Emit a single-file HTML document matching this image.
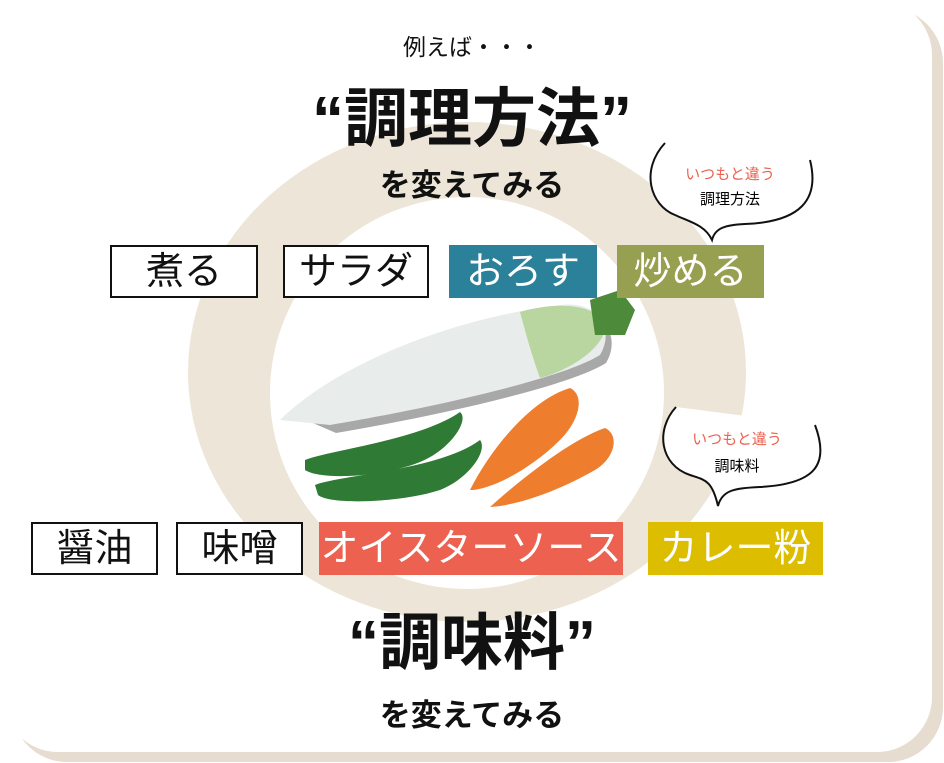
<!DOCTYPE html>
<html><head><meta charset="utf-8"><style>
body{margin:0;width:944px;height:763px;background:#fff;position:relative;overflow:hidden;font-family:"Liberation Sans","Noto Sans CJK JP",sans-serif}
.abs{position:absolute}
.box{position:absolute;box-sizing:border-box;display:flex;align-items:center;justify-content:center;font-size:38px;line-height:1}
.w{border:2px solid #111;background:#fff;color:#111}
.c{color:#fff}
.t{position:absolute;left:0;width:944px;text-align:center;color:#111}
</style></head><body>
<svg class="abs" style="left:0;top:0" width="944" height="763">
<rect x="12" y="8" width="931" height="754" rx="55" fill="#e6dccf"/>
<rect x="3" y="0" width="929" height="752" rx="55" fill="#fff"/>
<ellipse cx="467" cy="372" rx="279" ry="250" fill="#ede6d8"/>
<ellipse cx="467" cy="393" rx="197" ry="196" fill="#fff"/>
<path d="M300 412 C330 370 440 320 560 305 C600 300 615 330 600 355 C560 380 420 410 330 425 Z" fill="#a8a8a8" transform="translate(6,8)"/>
<path d="M280 420 C330 370 440 320 560 305 C600 300 615 330 600 355 C560 380 420 410 330 425 Z" fill="#e8ecea"/>
<path d="M520 312 C560 300 605 305 605 330 C600 350 570 370 540 378 C530 350 525 330 520 312Z" fill="#b9d6a0"/>
<path d="M590 300 l30 -10 l15 20 l-10 25 l-30 0Z" fill="#4d8a3a"/>
<path d="M305 460 C330 450 420 440 460 412 C470 420 450 450 420 462 C380 478 320 480 305 470Z" fill="#2f7a34"/>
<path d="M315 485 C340 475 440 470 480 440 C488 450 470 478 440 490 C400 503 330 505 318 495Z" fill="#2f7a34"/>
<path d="M470 490 C490 450 530 400 570 388 C585 395 580 420 560 440 C530 470 490 490 470 490Z" fill="#ee7d2e"/>
<path d="M490 507 C520 480 570 440 605 428 C620 435 615 458 595 470 C560 490 520 505 490 507Z" fill="#ee7d2e"/>
<path d="M665 143 C640 170 650 205 675 215 C690 222 705 225 712 240 C715 228 725 225 745 224 C800 222 820 200 810 160" fill="#fff" stroke="#111" stroke-width="2"/>
<path d="M676 407 C655 430 660 465 690 475 C705 480 712 480 718 506 C722 490 735 488 760 487 C815 484 830 465 815 425" fill="#fff" stroke="#111" stroke-width="2"/>
</svg>
<div class="t" style="top:28px;font-size:23px">例えば・・・</div>
<div class="t" style="top:84px;font-size:64px;font-weight:bold;line-height:1.1">“調理方法”</div>
<div class="t" style="top:160px;font-size:31px;font-weight:bold">を変えてみる</div>
<div class="abs" style="left:665px;top:163px;width:130px;text-align:center;font-size:15px;color:#ec6150">いつもと違う</div>
<div class="abs" style="left:665px;top:188px;width:130px;text-align:center;font-size:15px">調理方法</div>
<div class="abs" style="left:672px;top:428px;width:130px;text-align:center;font-size:15px;color:#ec6150">いつもと違う</div>
<div class="abs" style="left:672px;top:455px;width:130px;text-align:center;font-size:15px">調味料</div>
<div class="box w" style="left:110px;top:245px;width:148px;height:53px">煮る</div>
<div class="box w" style="left:283px;top:245px;width:146px;height:53px">サラダ</div>
<div class="box c" style="left:449px;top:245px;width:148px;height:53px;background:#2b8199">おろす</div>
<div class="box c" style="left:617px;top:245px;width:147px;height:53px;background:#96a050">炒める</div>
<div class="box w" style="left:31px;top:522px;width:127px;height:53px">醤油</div>
<div class="box w" style="left:176px;top:522px;width:127px;height:53px">味噌</div>
<div class="box c" style="left:319px;top:522px;width:304px;height:53px;background:#ec6150">オイスターソース</div>
<div class="box c" style="left:648px;top:522px;width:175px;height:53px;background:#dcbd00">カレー粉</div>
<div class="t" style="top:610px;font-size:62px;font-weight:bold;line-height:1.1">“調味料”</div>
<div class="t" style="top:690px;font-size:31px;font-weight:bold">を変えてみる</div>
</body></html>
